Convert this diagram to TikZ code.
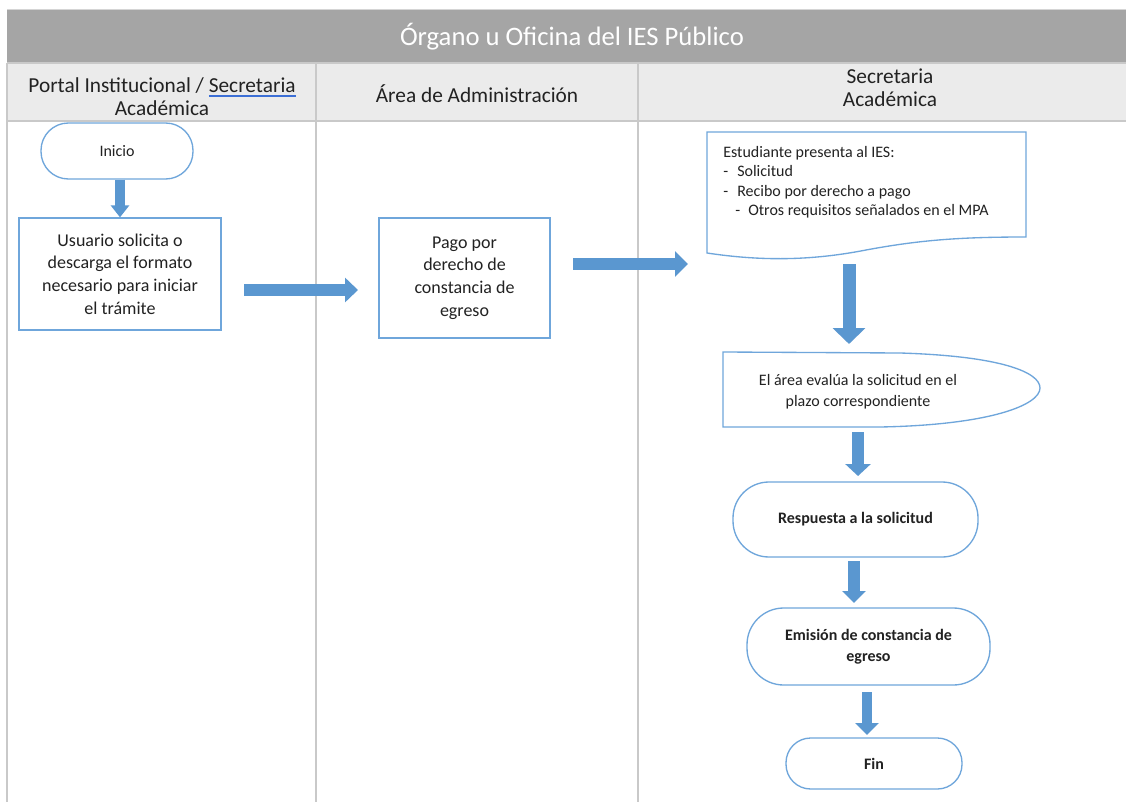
\documentclass[tikz,border=0pt]{standalone}
\usepackage{fontspec}
\setmainfont{Carlito}
\usetikzlibrary{arrows.meta}
\definecolor{titlegray}{HTML}{A5A5A5}
\definecolor{headgray}{HTML}{EBEBEB}
\definecolor{linegray}{HTML}{C9C9C9}
\definecolor{boxblue}{HTML}{6FA6DB}
\definecolor{arrowfill}{HTML}{5A97D0}
\definecolor{txt}{HTML}{222222}
\definecolor{spellblue}{HTML}{3C6FD6}
\tikzset{
  lane/.style={draw=linegray, line width=1.2pt},
  titletext/.style={text=white, font=\fontsize{20}{24}\selectfont, inner sep=0pt},
  headtext/.style={text=txt, font=\fontsize{16}{17.25}\selectfont, align=center, inner sep=0pt},
  procbox/.style={draw=boxblue, line width=1pt, text=txt, align=center, inner sep=0pt,
    font=\fontsize{13.5}{17}\selectfont},
  stadium/.style={draw=boxblue, line width=1pt, text=txt, align=center, inner sep=0pt},
  flowtext/.style={text=txt, inner sep=0pt, font=\fontsize{12}{15.75}\selectfont},
  fat/.style n args={3}{draw=arrowfill, line width=#1, -{Triangle[length=#3, width=#2]}}
}
\begin{document}
\begin{tikzpicture}[x=0.75pt, y=-0.75pt]
\useasboundingbox (0,0) rectangle (1126,802);
\fill[white] (0,0) rectangle (1126,802);

% pool header
\fill[titlegray] (7,10) rectangle (1126,63);
\fill[headgray] (7,63) rectangle (1126,121);
\draw[draw=headgray!80!gray, line width=0.8pt] (7,9.5) -- (1126,9.5);
\draw[lane] (7,63) -- (1126,63);
\draw[lane] (7,121) -- (1126,121);
\draw[lane] (7,63) -- (7,802);
\draw[lane] (316,63) -- (316,802);
\draw[lane] (638,63) -- (638,802);

\node[titletext] (title) at (572,37) {Órgano u Oficina del IES Público};
\node[headtext] (lane1) at (162,97) {Portal Institucional / \sbox0{Secretaria}\usebox0\llap{{\color{spellblue}\rule[-2.8pt]{\wd0}{1.3pt}}}\\Académica};
\node[headtext] (lane2) at (477,94) {Área de Administración};
\node[headtext] (lane3) at (890,88) {Secretaria\\Académica};

% nodes
\node[stadium, minimum width=114pt, minimum height=42pt, rounded corners=20.5pt,
  font=\fontsize{12}{15}\selectfont] (inicio) at (117,151) {Inicio};
\node[procbox, minimum width=151.5pt, minimum height=84pt] (usuario) at (120,274)
  {Usuario solicita o\\descarga el formato\\necesario para iniciar\\el trámite};
\node[procbox, minimum width=128.25pt, minimum height=90pt] (pago) at (464.5,278)
  {Pago por\\derecho de\\constancia de\\egreso};

% document shape
\draw[boxblue, line width=1pt] (707,132) -- (1026,132) -- (1026,237)
  .. controls (960,237) and (920,240) .. (866,250)
  .. controls (810,261) and (760,261) .. (707,253) -- cycle;
\node[flowtext, anchor=north west, align=left, font=\fontsize{12}{14.5}\selectfont] (doc) at (723,146)
  {Estudiante presenta al IES:\\
   \makebox[10.5pt][l]{-}Solicitud\\
   \makebox[10.5pt][l]{-}Recibo por derecho a pago\\
   \hspace*{9pt}\makebox[9.75pt][l]{-}Otros requisitos señalados en el MPA};

% evaluation shape
\draw[boxblue, line width=1pt] (723,352) -- (900,353)
  .. controls (1000,356) and (1040,372) .. (1040,388)
  .. controls (1040,405) and (990,425) .. (880,427) -- (723,427) -- cycle;
\node[flowtext, align=center] (evalua) at (858,392)
  {El área evalúa la solicitud en el\\plazo correspondiente};

\node[stadium, minimum width=183.75pt, minimum height=56.25pt, rounded corners=27pt,
  font=\bfseries\fontsize{12}{15.75}\selectfont] (respuesta) at (855.5,519.5) {Respuesta a la solicitud};
\node[stadium, minimum width=182.25pt, minimum height=57.75pt, rounded corners=27.5pt,
  font=\bfseries\fontsize{12}{15.75}\selectfont] (emision) at (868.5,646.5) {Emisión de constancia de\\egreso};
\node[stadium, minimum width=132pt, minimum height=38.25pt, rounded corners=18.5pt,
  font=\bfseries\fontsize{12}{15.75}\selectfont] (fin) at (874,763.5) {Fin};

% arrow end points
\coordinate (a2s) at (244,290);
\coordinate (a2e) at (358,290);
\coordinate (a3s) at (573,264);
\coordinate (a3e) at (688,264);
\coordinate (a4s) at (849,264);
\coordinate (a4e) at (849,344);
\coordinate (a5s) at (858,432);
\coordinate (a5e) at (858,476);
\coordinate (a6s) at (854,561);
\coordinate (a6e) at (854,603);
\coordinate (a7s) at (867,692);
\coordinate (a7e) at (867,735);

% block arrows
\draw[fat={7.5pt}{13.5pt}{9pt}] (usuario.north |- inicio.south) -- (usuario.north);
\draw[fat={9pt}{18pt}{9.75pt}] (a2s) -- (a2e);
\draw[fat={9pt}{18.75pt}{9.75pt}] (a3s) -- (a3e);
\draw[fat={9.75pt}{24pt}{12pt}] (a4s) -- (a4e);
\draw[fat={9pt}{18.75pt}{9pt}] (a5s) -- (a5e);
\draw[fat={9pt}{17.25pt}{9pt}] (a6s) -- (a6e);
\draw[fat={8pt}{17.25pt}{9pt}] (a7s) -- (a7e);
\end{tikzpicture}
\end{document}
